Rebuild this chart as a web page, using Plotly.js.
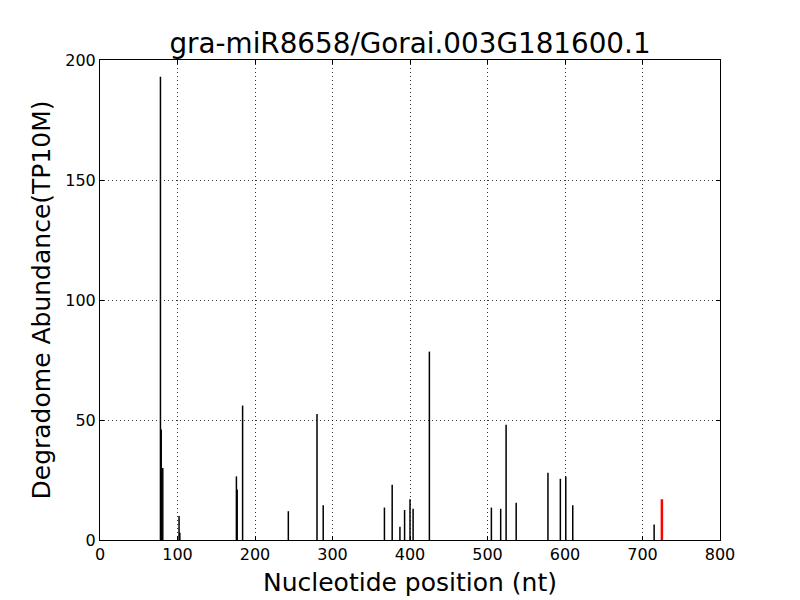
<!DOCTYPE html>
<html>
<head>
<meta charset="utf-8">
<script src="https://cdn.plot.ly/plotly-3.0.1.min.js"></script>
<style>html,body{margin:0;padding:0;background:#fff;}#chart{width:800px;height:600px;}</style>
</head>
<body>
<div id="chart"></div>
<script>
// Degradome peaks (nucleotide position, abundance TP10M)
const positions = [78, 79, 81, 102, 103, 176, 177, 184, 243, 280, 288, 367, 377, 387, 393, 400, 404, 425, 505, 517, 524, 537, 578, 594, 601, 610, 715];
const abundances = [193, 46, 30, 10, 3, 26.5, 21, 56, 12, 52.5, 14.5, 13.5, 23, 5.5, 12.5, 17, 13, 78.5, 13.5, 13, 48, 15.5, 28, 25.5, 26.5, 14.5, 6.5];
// Target site (red)
const targetPositions = [725];
const targetAbundances = [17];

const xTicks = [0, 100, 200, 300, 400, 500, 600, 700, 800];
const yTicks = [0, 50, 100, 150, 200];

function stems(xs, ys) {
  const X = [], Y = [];
  xs.forEach((x, i) => { X.push(x, x, null); Y.push(0, ys[i], null); });
  return {X, Y};
}
const s1 = stems(positions, abundances);
const s2 = stems(targetPositions, targetAbundances);

const font = "DejaVu Sans, sans-serif";
const data = [
  {x: s1.X, y: s1.Y, type: 'scatter', mode: 'lines', line: {color: '#000', width: 1.5}, hoverinfo: 'skip', showlegend: false},
  {x: s2.X, y: s2.Y, type: 'scatter', mode: 'lines', line: {color: '#ff0000', width: 2.5}, hoverinfo: 'skip', showlegend: false}
];
const axisCommon = {
  showline: true, linecolor: '#000', linewidth: 1, mirror: 'allticks',
  ticks: 'inside', ticklen: 4, tickwidth: 1, tickcolor: '#000',
  showgrid: true, gridcolor: '#000', gridwidth: 0.8, griddash: '1px,3px',
  zeroline: false, tickfont: {family: font, size: 16, color: '#000'}
};
const layout = {
  width: 800, height: 600,
  margin: {l: 100, r: 80, t: 60, b: 60},
  paper_bgcolor: '#fff', plot_bgcolor: '#fff',
  title: {text: 'gra-miR8658/Gorai.003G181600.1', font: {family: font, size: 27.8, color: '#000'},
          x: 410/800, xanchor: 'center', xref: 'container', y: 1 - 43/600, yanchor: 'middle', yref: 'container'},
  xaxis: Object.assign({}, axisCommon, {
    range: [0, 800], tickvals: xTicks, ticktext: xTicks.map(String),
    title: {text: 'Nucleotide position (nt)', font: {family: font, size: 25, color: '#000'}, standoff: 10}
  }),
  yaxis: Object.assign({}, axisCommon, {
    range: [0, 200], tickvals: yTicks, ticktext: yTicks.map(String),
    title: {text: 'Degradome Abundance(TP10M)', font: {family: font, size: 25, color: '#000'}, standoff: 7}
  })
};
Plotly.newPlot('chart', data, layout, {displayModeBar: false, staticPlot: true});
</script>
</body>
</html>
